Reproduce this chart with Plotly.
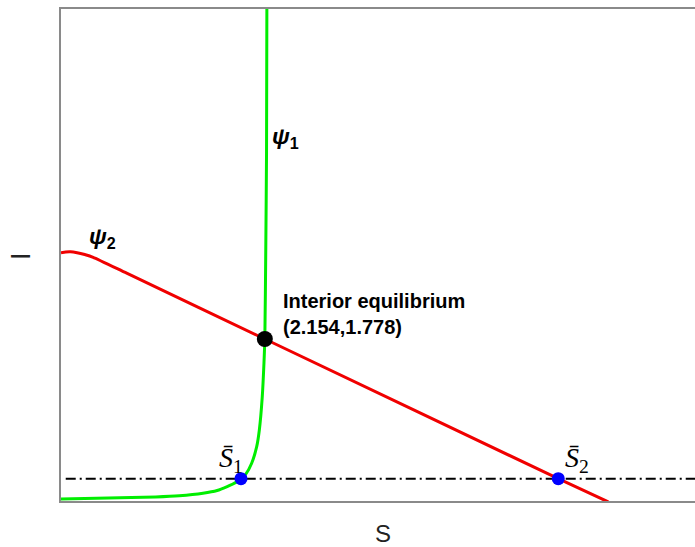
import plotly.graph_objects as go

# Axis extents (S horizontal, I vertical)
S_RANGE = [0, 6.7]
I_RANGE = [0, 5.4]

# Nullcline psi_1 (green): (S, I) points
psi1_S = [0.0, 0.5, 1.0, 1.25, 1.5, 1.65, 1.75, 1.85, 1.902, 1.95, 2.015, 2.068,
          2.096, 2.127, 2.145, 2.154, 2.164, 2.172, 2.176]
psi1_I = [0.022, 0.032, 0.045, 0.058, 0.085, 0.115, 0.155, 0.205, 0.245, 0.29,
          0.414, 0.596, 0.779, 1.145, 1.515, 1.778, 2.755, 3.82, 5.6]

# Nullcline psi_2 (red): (S, I) points
psi2_S = [0.0, 0.05, 0.1, 0.17, 0.25, 0.34, 0.694, 2.154, 5.255, 5.784]
psi2_I = [2.725, 2.733, 2.735, 2.725, 2.705, 2.675, 2.500, 1.778, 0.245, -0.01]

# Threshold level (dash-dot line)
level_S = [0.05, 6.7]
level_I = [0.245, 0.245]

# Interior equilibrium
eq_S, eq_I = 2.154, 1.778

# Boundary points S-bar_1, S-bar_2
bar_S = [1.902, 5.255]
bar_I = [0.245, 0.245]
bar_labels = ["<i>S\u0304</i><sub>1</sub>", "<i>S\u0304</i><sub>2</sub>"]

fig = go.Figure()

fig.add_trace(go.Scatter(x=level_S, y=level_I, mode="lines",
                         line=dict(color="black", width=2, dash="10px,4px,2px,4px"),
                         hoverinfo="skip"))
fig.add_trace(go.Scatter(x=psi1_S, y=psi1_I, mode="lines",
                         line=dict(color="#00ee00", width=3, shape="spline", smoothing=0.6)))
fig.add_trace(go.Scatter(x=psi2_S, y=psi2_I, mode="lines",
                         line=dict(color="#f00000", width=3, shape="spline", smoothing=0.5)))
fig.add_trace(go.Scatter(x=bar_S, y=bar_I, mode="markers",
                         marker=dict(color="#0000ff", size=13), cliponaxis=False))
fig.add_trace(go.Scatter(x=[eq_S], y=[eq_I], mode="markers",
                         marker=dict(color="black", size=16)))

annotations = [
    dict(x=2.21, y=3.99, text="<b><i>\u03c8</i><sub>1</sub></b>", xanchor="left",
         yanchor="middle", font=dict(size=23, family="Liberation Sans", color="black")),
    dict(x=0.27, y=2.89, text="<b><i>\u03c8</i><sub>2</sub></b>", xanchor="left",
         yanchor="middle", font=dict(size=23, family="Liberation Sans", color="black")),
    dict(x=2.33, y=2.05, text="<b>Interior equilibrium<br>(2.154,1.778)</b>", xanchor="left",
         yanchor="middle", align="left",
         font=dict(size=20, family="Liberation Sans", color="black")),
    dict(x=1.945, y=0.24, text=bar_labels[0], xanchor="right", yanchor="bottom",
         font=dict(size=28, family="Liberation Serif", color="black")),
    dict(x=5.30, y=0.24, text=bar_labels[1], xanchor="left", yanchor="bottom",
         font=dict(size=28, family="Liberation Serif", color="black")),
    dict(x=0.508, y=-0.067, xref="paper", yref="paper", text="S",
         xanchor="center", yanchor="middle",
         font=dict(size=24, family="Liberation Sans", color="#222")),
    dict(x=-0.063, y=0.498, xref="paper", yref="paper", text="I",
         textangle=-90, xanchor="center", yanchor="middle",
         font=dict(size=27, family="Liberation Sans", color="#222")),
]
for a in annotations:
    a["showarrow"] = False

fig.update_layout(
    width=695, height=547,
    margin=dict(l=61, r=0, t=9, b=46),
    paper_bgcolor="white", plot_bgcolor="white",
    showlegend=False,
    annotations=annotations,
    xaxis=dict(range=S_RANGE, showgrid=False, zeroline=False, showticklabels=False,
               ticks="", showline=True, linecolor="#8a8a8a", linewidth=2, mirror=True),
    yaxis=dict(range=I_RANGE, showgrid=False, zeroline=False, showticklabels=False,
               ticks="", showline=True, linecolor="#8a8a8a", linewidth=2, mirror=False),
)

fig.write_html("out.html")
